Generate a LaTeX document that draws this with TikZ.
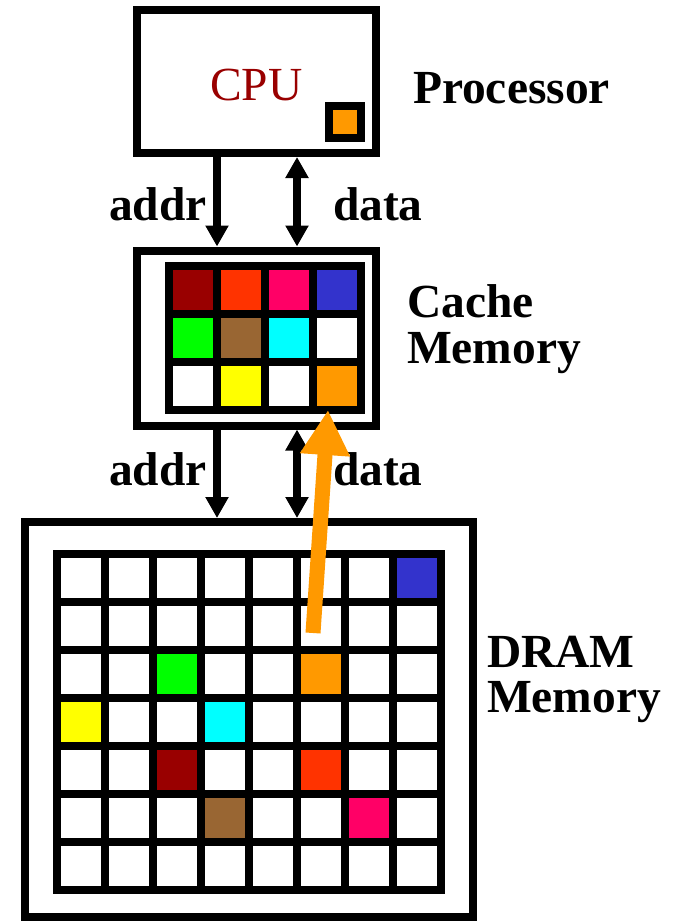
\documentclass[tikz,border=0pt]{standalone}
\usepackage{fontspec}
\setmainfont{Liberation Serif}
\usetikzlibrary{arrows.meta}
\definecolor{cDred}{HTML}{990000}
\definecolor{cOred}{HTML}{FF3300}
\definecolor{cPink}{HTML}{FF0066}
\definecolor{cBlue}{HTML}{3333CC}
\definecolor{cGreen}{HTML}{00FF00}
\definecolor{cBrown}{HTML}{996633}
\definecolor{cCyan}{HTML}{00FFFF}
\definecolor{cYellow}{HTML}{FFFF00}
\definecolor{cOrange}{HTML}{FF9900}
\begin{document}
\begin{tikzpicture}[x=0.75pt,y=-0.75pt,
  box/.style={draw, line width=6pt, inner sep=0pt, outer sep=0pt, fill=white},
  lbl/.style={font=\fontsize{35.6pt}{42pt}\selectfont\bfseries, inner sep=0pt, outer sep=0pt, anchor=base west},
  bus/.style={line width=6pt, -{Triangle[width=16.5pt,length=15.75pt]}},
  bibus/.style={line width=6pt, {Triangle[width=16.5pt,length=15.75pt]}-{Triangle[width=16.5pt,length=15.75pt]}},
  gridline/.style={line width=6pt},
  move/.style={draw=cOrange, line width=11.25pt, -{Triangle[width=35.25pt,length=33.75pt]}}
]
\useasboundingbox (0,0) rectangle (675,921);

% --- processor ---
\node[box, minimum width=179.25pt, minimum height=107.25pt] (cpu) at (256.5,81.5) {};
\node[font=\fontsize{35.6pt}{42pt}\selectfont, text=cDred, inner sep=0pt, anchor=base west] (cputxt) at (210,100) {CPU};
\node[draw, line width=6pt, fill=cOrange, inner sep=0pt, minimum size=24pt] (reg) at (345,122) {};
\node[lbl] (proc) at (413,103) {Processor};

% --- cache ---
\node[box, minimum width=179.25pt, minimum height=131.25pt] (cache) at (256.5,338) {};
\foreach \r/\c/\col in {0/0/cDred,0/1/cOred,0/2/cPink,0/3/cBlue,
                        1/0/cGreen,1/1/cBrown,1/2/cCyan,
                        2/1/cYellow,2/3/cOrange}
  \fill[\col] (169+48*\c,266+48*\r) rectangle ++(48,48);
\foreach \x in {217,265,313} \draw[gridline] (\x,266) -- (\x,410);
\foreach \y in {314,362} \draw[gridline] (169,\y) -- (361,\y);
\draw[gridline] (169,266) rectangle (361,410);
\node[lbl] (cacheA) at (407,317) {Cache};
\node[lbl] (cacheB) at (407,363) {Memory};

% --- DRAM ---
\node[box, minimum width=336pt, minimum height=296.25pt] (dram) at (249,719.5) {};
\foreach \r/\c/\col in {0/7/cBlue,2/2/cGreen,2/5/cOrange,3/0/cYellow,3/3/cCyan,
                        4/2/cDred,4/5/cOred,5/3/cBrown,5/6/cPink}
  \fill[\col] (57+48*\c,554+48*\r) rectangle ++(48,48);
\foreach \k in {1,...,7} \draw[gridline] (57+48*\k,554) -- (57+48*\k,890);
\foreach \k in {1,...,6} \draw[gridline] (57,554+48*\k) -- (441,554+48*\k);
\draw[gridline] (57,554) rectangle (441,890);
\node[lbl] (dramA) at (487,667) {DRAM};
\node[lbl] (dramB) at (487,712) {Memory};

% --- buses ---
\coordinate (ax) at (217,0);
\coordinate (dx) at (297,0);
\draw[bus] (cpu.south -| ax) -- ([yshift=3pt]cache.north -| ax);
\draw[bibus] ([yshift=-3pt]cpu.south -| dx) -- ([yshift=3pt]cache.north -| dx);
\node[lbl] (addrA) at (109,220) {addr};
\node[lbl] (dataA) at (333,220) {data};

\draw[bus] (cache.south -| ax) -- ([yshift=3pt]dram.north -| ax);
\draw[bibus] ([yshift=-3pt]cache.south -| dx) -- ([yshift=3pt]dram.north -| dx);
\node[lbl] (addrB) at (109,485) {addr};
\node[lbl] (dataB) at (333,485) {data};

% --- line moved from DRAM into the cache ---
\coordinate (src) at (313,633);
\coordinate (dst) at (328,410);
\draw[move] (src) -- (dst);
\end{tikzpicture}
\end{document}
